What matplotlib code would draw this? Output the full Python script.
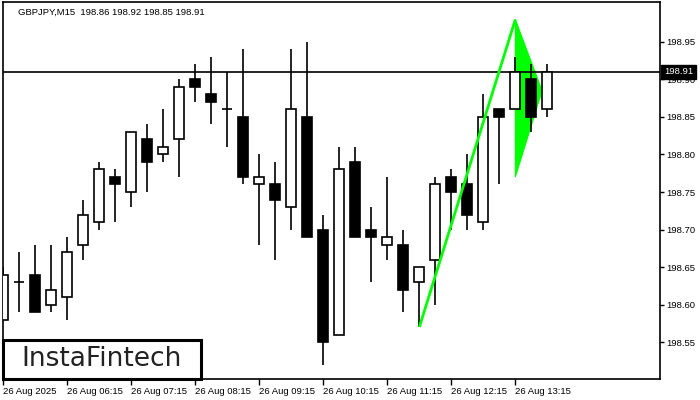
import matplotlib
matplotlib.use("Agg")
import matplotlib.pyplot as plt
import matplotlib.transforms as mtransforms
from matplotlib.patches import Rectangle, Polygon

# velas GBPJPY M15
aberturas = [198.58, 198.63, 198.64, 198.60, 198.61, 198.68, 198.71, 198.77, 198.75, 198.82,
             198.80, 198.82, 198.90, 198.88, 198.86, 198.85, 198.76, 198.76, 198.73, 198.85,
             198.70, 198.56, 198.79, 198.70, 198.68, 198.68, 198.63, 198.66, 198.77, 198.76,
             198.71, 198.86, 198.86, 198.90, 198.86]
maximas = [198.65, 198.67, 198.68, 198.68, 198.69, 198.74, 198.79, 198.78, 198.83, 198.84,
           198.86, 198.90, 198.92, 198.93, 198.91, 198.94, 198.80, 198.79, 198.94, 198.95,
           198.72, 198.81, 198.81, 198.73, 198.77, 198.70, 198.65, 198.77, 198.78, 198.80,
           198.88, 198.86, 198.93, 198.92, 198.92]
minimas = [198.58, 198.59, 198.59, 198.59, 198.58, 198.66, 198.70, 198.71, 198.73, 198.75,
           198.79, 198.77, 198.87, 198.84, 198.81, 198.76, 198.68, 198.66, 198.70, 198.69,
           198.52, 198.56, 198.69, 198.63, 198.66, 198.59, 198.57, 198.60, 198.70, 198.70,
           198.70, 198.76, 198.86, 198.83, 198.85]
fechamentos = [198.64, 198.63, 198.59, 198.62, 198.67, 198.72, 198.78, 198.76, 198.83, 198.79,
               198.81, 198.89, 198.89, 198.87, 198.86, 198.77, 198.77, 198.74, 198.86, 198.69,
               198.55, 198.78, 198.69, 198.69, 198.69, 198.62, 198.65, 198.76, 198.75, 198.72,
               198.85, 198.85, 198.91, 198.85, 198.91]

rotulos_tempo = ["26 Aug 2025", "26 Aug 06:15", "26 Aug 07:15", "26 Aug 08:15", "26 Aug 09:15",
                 "26 Aug 10:15", "26 Aug 11:15", "26 Aug 12:15", "26 Aug 13:15"]
posicoes_tempo = [0, 4, 8, 12, 16, 20, 24, 28, 32]
precos_eixo = [198.55, 198.60, 198.65, 198.70, 198.75, 198.80, 198.85, 198.90, 198.95]

preco_atual = 198.91
# bandeira (pennant): mastro e triangulo
mastro_x = [26, 32]
mastro_y = [198.57, 198.98]
flamula_x = [32, 32, 33.67]
flamula_y = [198.98, 198.77, 198.885]

titulo = "GBPJPY,M15  198.86 198.92 198.85 198.91"

verde = "#00ff00"
fonte = "Liberation Sans"
tam = 6.8

fig = plt.figure(figsize=(7, 4), dpi=100)
ax = fig.add_axes([3 / 700, 21 / 400, 657 / 700, 377 / 400])
ax.set_xlim(-0.02, 41.04)
ax.set_ylim(198.5007, 199.0033)

# triangulo verde atras das velas
ax.add_patch(Polygon(list(zip(flamula_x, flamula_y)), closed=True,
                     facecolor=verde, edgecolor=verde, lw=0.8, zorder=1))

largura = 0.62
for i in range(len(aberturas)):
    o, h, l, c = aberturas[i], maximas[i], minimas[i], fechamentos[i]
    ax.vlines(i, l, h, color="black", lw=1.2, zorder=2)
    if abs(c - o) < 1e-9:
        ax.hlines(o, i - largura / 2, i + largura / 2, color="black", lw=1.2, zorder=3)
    else:
        cor = "white" if c > o else "black"
        ax.add_patch(Rectangle((i - largura / 2, min(o, c)), largura, abs(c - o),
                               facecolor=cor, edgecolor="black", lw=1.2, zorder=3))

ax.axhline(preco_atual, color="black", lw=1.2, zorder=2.5)
ax.plot(mastro_x, mastro_y, color=verde, lw=2, zorder=4, solid_capstyle="butt")

# eixos
ax.yaxis.tick_right()
ax.set_yticks(precos_eixo)
ax.set_yticklabels([f"{p:.2f}" for p in precos_eixo], fontsize=tam, family=fonte)
ax.tick_params(axis="y", length=3, width=1, pad=1.5)
ax.set_xticks(posicoes_tempo)
ax.set_xticklabels(rotulos_tempo, fontsize=tam, family=fonte)
for rot in ax.get_xticklabels():
    rot.set_horizontalalignment("left")
ax.tick_params(axis="x", length=4, width=1, pad=2)
for s in ax.spines.values():
    s.set_linewidth(1.2)

trans = mtransforms.blended_transform_factory(ax.transAxes, ax.transData)
ax.text(1.006, preco_atual, "198.91", transform=trans, fontsize=tam, family=fonte,
        color="white", va="center", ha="left", zorder=10, clip_on=False,
        bbox=dict(boxstyle="square,pad=0.3", facecolor="black", edgecolor="black"))

fig.text(18 / 700, 1 - 12 / 400, titulo, fontsize=tam, family=fonte, va="center", ha="left")

# logo
logo = Rectangle((3 / 700, 21 / 400), 198 / 700, 39 / 400, transform=fig.transFigure,
                 facecolor="white", edgecolor="black", lw=2.2, zorder=20)
fig.patches.append(logo)
fig.text(102 / 700, 1 - 359 / 400, "InstaFintech", fontsize=19, color="#222222",
         ha="center", va="center", zorder=21)

fig.savefig("out.png", dpi=100)
